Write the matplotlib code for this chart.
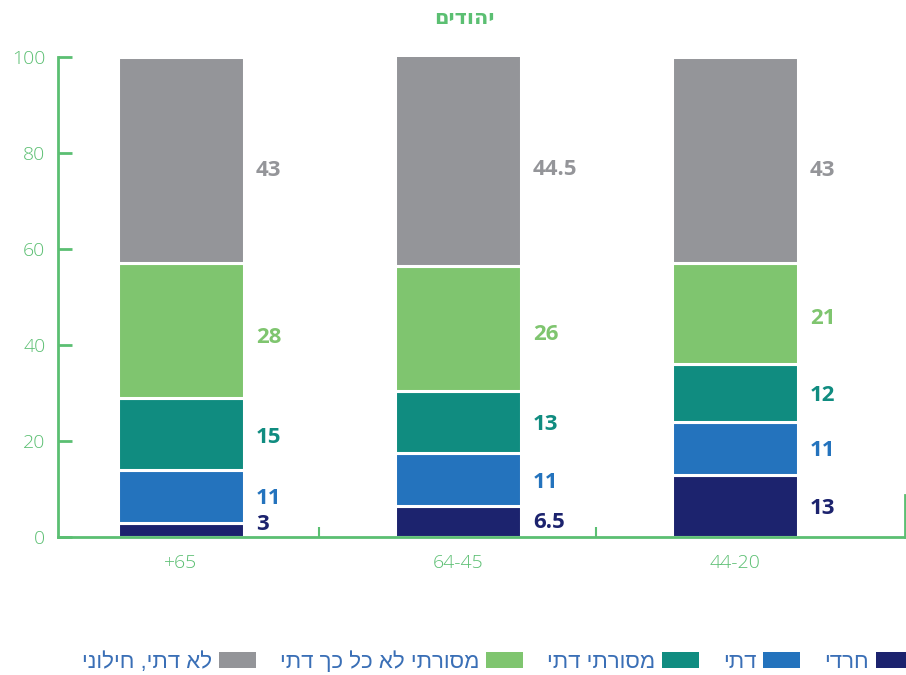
import matplotlib
matplotlib.use("Agg")
import matplotlib.pyplot as plt
from matplotlib.patches import Patch

# age groups (as printed on the axis) and share of each religiosity group, %
groups = ['+65', '64-45', '44-20']
haredi = [3, 6.5, 13]
dati = [11, 11, 11]
masorti_dati = [15, 13, 12]
masorti_lo_dati = [28, 26, 21]
lo_dati = [43, 44.5, 43]

series = [haredi, dati, masorti_dati, masorti_lo_dati, lo_dati]
series_names = ['חרדי', 'דתי', 'מסורתי דתי', 'מסורתי לא כל כך דתי', 'לא דתי, חילוני']
colors = ['#1c236e', '#2473bd', '#108c80', '#7fc56f', '#949599']
title = 'יהודים'

axis_green = '#5bbf72'
legend_blue = '#3a6fb6'
num_font = ['Open Sans', 'DejaVu Sans']
heb_font = ['Liberation Sans Narrow', 'Liberation Sans', 'DejaVu Sans']


def rtl(s):
    # matplotlib has no bidi support, so lay Hebrew out in visual order
    return s[::-1]


fig = plt.figure(figsize=(9.06, 6.75), dpi=100)
ax = fig.add_axes([0.064, 0.2044, 0.935, 0.7112])

x = list(range(len(groups)))
width = 0.458
bottom = [0] * len(groups)
for vals, col in zip(series, colors):
    ax.bar(x, vals, width, bottom=bottom, color=col, edgecolor='white', linewidth=2.2)
    for i, v in enumerate(vals):
        # value labels sit a little below the segment middle
        ypos = max(bottom[i] + v / 2 - 0.05 * v, 2.7)
        ax.text(i + width / 2 + 0.042, ypos, f'{v:g}', color=col,
                fontsize=16, fontweight='bold', family=num_font,
                ha='left', va='center')
    bottom = [b + v for b, v in zip(bottom, vals)]

ax.set_xlim(-0.444, 2.614)
ax.set_ylim(0, 100)

ax.spines['top'].set_visible(False)
for side in ['left', 'bottom', 'right']:
    ax.spines[side].set_color(axis_green)
    ax.spines[side].set_linewidth(2)
ax.spines['right'].set_bounds(0, 8.7)

ax.set_yticks([0, 20, 40, 60, 80, 100])
ax.tick_params(axis='y', direction='in', length=10, width=2, color=axis_green,
               labelcolor=axis_green, labelsize=14, pad=9)
ax.tick_params(axis='y', which='both', right=False)
ax.set_xticks(x)
ax.set_xticklabels(groups)
ax.set_xticks([0.5, 1.5], minor=True)
ax.tick_params(axis='x', which='major', length=0, labelcolor=axis_green,
               labelsize=14, pad=12)
ax.tick_params(axis='x', which='minor', direction='in', length=7, width=1.5,
               color=axis_green)
for lab in ax.get_xticklabels() + ax.get_yticklabels():
    lab.set_family(num_font)
    lab.set_fontweight('light')

fig.text(0.513, 0.973, rtl(title), color=axis_green, fontsize=15,
         fontweight='bold', family=num_font, ha='center', va='center')

# legend runs right to left, first series on the far right
handles = [Patch(facecolor=c, edgecolor='none') for c in colors][::-1]
labels = [rtl(n) for n in series_names][::-1]
leg = fig.legend(handles, labels, loc='center right', bbox_to_anchor=(1.007, 0.019),
                 ncol=5, frameon=False, markerfirst=False, handlelength=1.65,
                 handleheight=0.75, handletextpad=0.3, columnspacing=1.1,
                 borderpad=0, borderaxespad=0, labelcolor=legend_blue,
                 prop={'family': heb_font, 'size': 16})

fig.savefig('out.png', dpi=100)
